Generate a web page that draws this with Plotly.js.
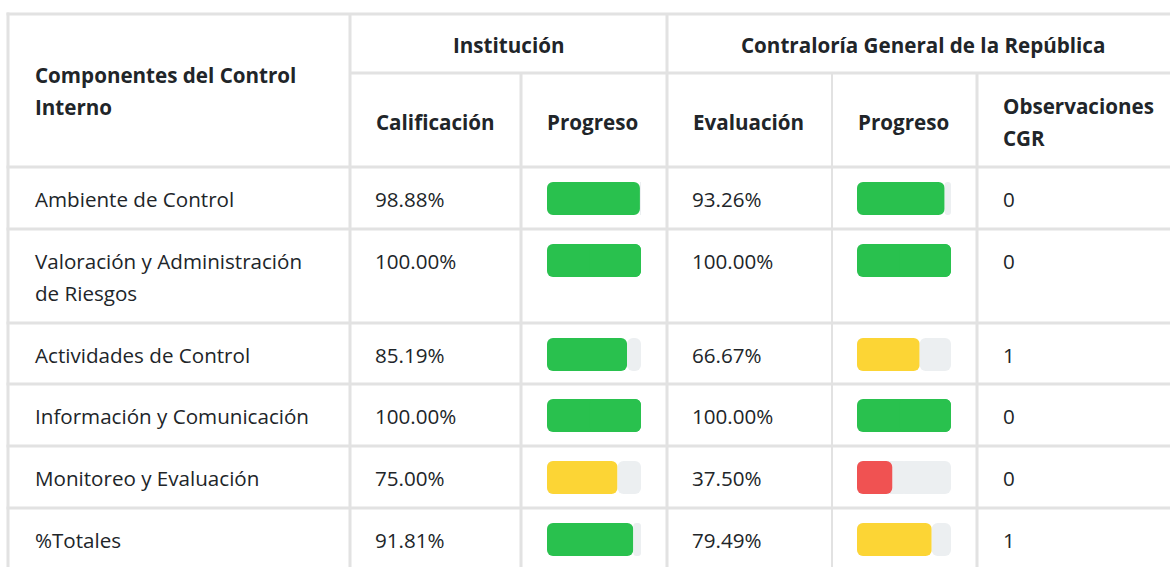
<!DOCTYPE html>
<html>
<head>
<meta charset="utf-8">
<script src="https://cdn.plot.ly/plotly-3.0.1.min.js"></script>
<style>
  html, body { margin: 0; padding: 0; background: #ffffff; }
  #chart { width: 1170px; height: 567px; }
</style>
</head>
<body>
<div id="chart"></div>
<script>
// ---------------- DATA ----------------
const cornerHeader = 'Componentes del Control Interno';
const groupHeaders = ['Institución', 'Contraloría General de la República'];
const columnHeaders = ['Calificación', 'Progreso', 'Evaluación', 'Progreso', 'Observaciones CGR'];
const categories = [
  'Ambiente de Control',
  'Valoración y Administración de Riesgos',
  'Actividades de Control',
  'Información y Comunicación',
  'Monitoreo y Evaluación',
  '%Totales'
];
const institucionValues = [98.88, 100.00, 85.19, 100.00, 75.00, 91.81];
const cgrValues = [93.26, 100.00, 66.67, 100.00, 37.50, 79.49];
const cgrObservations = [0, 0, 1, 0, 0, 1];

// ---------------- LAYOUT / STYLE ----------------
const W = 1170, H = 567;
const FONT = '"Open Sans", "Noto Sans", sans-serif';
const FS = 20.6;
const TEXT = '#212529';
const GRID = '#e2e2e2';
const colX = [8, 350, 521, 667, 832, 977, 1185];   // column boundaries (px)
const colWrap = [28, 20, 20, 20, 20, 13];           // wrap width in chars per column
const headTop = 14, headMid = 73, headBottom = 167;
const PAD = 26, LINE = 32, BASE_ROW = 61.8, TXT_SHIFT = -2;
const BAR_W = 94, BAR_H = 33, BAR_TOP = 15, RADIUS = 6;
const GREEN = '#29c14e', YELLOW = '#fcd535', RED = '#f05252', TRACK = '#eceff1';

function wrap(text, n) {
  const words = text.split(' ');
  const lines = [];
  let cur = '';
  words.forEach(w => {
    if (cur && (cur + ' ' + w).length > n) { lines.push(cur); cur = w; }
    else cur = cur ? cur + ' ' + w : w;
  });
  if (cur) lines.push(cur);
  return lines;
}
function color(v) { return v >= 80 ? GREEN : (v >= 50 ? YELLOW : RED); }
const fmt = v => v.toFixed(2) + '%';

// row geometry
const catLines = categories.map(c => wrap(c, colWrap[0]));
const rowTops = [];
let yy = headBottom;
catLines.forEach(l => { rowTops.push(Math.round(yy)); yy += BASE_ROW + LINE * (l.length - 1); });
const tableBottom = Math.max(yy, H + 5);
const barCenters = rowTops.map(t => t + BAR_TOP + BAR_H / 2);

const annotations = [];
function addLines(lines, x, yCenterFirst, bold, anchor) {
  lines.forEach((ln, i) => {
    annotations.push({
      xref: 'x', yref: 'y', x: anchor === 'center' ? x : x + TXT_SHIFT, y: yCenterFirst + i * LINE,
      text: bold ? '<b>' + ln + '</b>' : ln,
      showarrow: false, xanchor: anchor || 'left', yanchor: 'middle',
      font: { family: FONT, size: FS, color: TEXT }
    });
  });
}
function addCentered(lines, x, yMid, bold, anchor) {
  const first = yMid - (lines.length - 1) * LINE / 2;
  addLines(lines, x, first, bold, anchor);
}

// headers
addCentered(wrap(cornerHeader, colWrap[0]), colX[0] + 27, (headTop + headBottom) / 2, true);
addCentered([groupHeaders[0]], (colX[1] + colX[3]) / 2, (headTop + headMid) / 2 + 1, true, 'center');
addCentered([groupHeaders[1]], 923, (headTop + headMid) / 2 + 1, true, 'center');
columnHeaders.forEach((h, i) => {
  addCentered(wrap(h, colWrap[i + 1]), colX[i + 1] + PAD, (headMid + headBottom) / 2 + 2, true);
});

// body text
categories.forEach((c, r) => {
  const yc = barCenters[r];
  addLines(catLines[r], colX[0] + 27, yc, false);
  addLines([fmt(institucionValues[r])], colX[1] + PAD - 1, yc, false);
  addLines([fmt(cgrValues[r])], colX[3] + PAD - 1, yc, false);
  addLines([String(cgrObservations[r])], colX[5] + PAD, yc, false);
});

// grid lines
const shapes = [];
function hline(y, x0, x1, w) {
  shapes.push({ type: 'line', xref: 'x', yref: 'y', x0: x0, x1: x1, y0: y, y1: y, line: { color: GRID, width: w || 3 }, layer: 'below' });
}
function vline(x, y0, y1, w) {
  shapes.push({ type: 'line', xref: 'x', yref: 'y', x0: x, x1: x, y0: y0, y1: y1, line: { color: GRID, width: w || 3 }, layer: 'below' });
}
hline(headTop, colX[0] - 1.5, colX[6]);
hline(headMid, colX[1], colX[6]);
hline(headBottom, colX[0] - 1.5, colX[6]);
rowTops.slice(1).forEach(t => hline(t, colX[0] - 1.5, colX[6]));
vline(colX[0], headTop - 1.5, tableBottom);
vline(colX[1], headTop, tableBottom);
vline(colX[2], headMid, tableBottom);
vline(colX[3], headTop, tableBottom);
vline(colX[4], headMid, tableBottom, 2);
vline(colX[5], headMid, tableBottom);

// progress bars: each column has a reversed axis (drawn first, bars rounded at left)
// and a normal axis (drawn on top, bars rounded at right) sharing one domain.
const common = { type: 'bar', orientation: 'h', yaxis: 'y', y: barCenters, width: BAR_H, hoverinfo: 'skip', showlegend: false };
const mk = c => ({ color: c, cornerradius: RADIUS, line: { width: 0 } });
function leftTraces(values, xaRev) {
  return [
    Object.assign({}, common, { xaxis: xaRev, base: values.map(() => 45), x: values.map(() => 55), marker: mk(TRACK) }),
    Object.assign({}, common, { xaxis: xaRev, base: values.map(v => 100 - v), x: values, marker: mk(values.map(color)) })
  ];
}
function rightTraces(values, xa) {
  const start = values.map(v => v >= 100 ? 45 : Math.max(v, 45));
  return [
    Object.assign({}, common, { xaxis: xa, base: start, x: start.map(s => 100 - s),
      marker: mk(values.map(v => v >= 100 ? color(v) : TRACK)) })
  ];
}
const data = [].concat(
  leftTraces(institucionValues, 'x2'),
  leftTraces(cgrValues, 'x3'),
  rightTraces(institucionValues, 'x4'),
  rightTraces(cgrValues, 'x5')
);

const dom1 = [(colX[2] + PAD) / W, (colX[2] + PAD + BAR_W) / W];
const dom2 = [(colX[4] + PAD - 1) / W, (colX[4] + PAD - 1 + BAR_W) / W];
const barAxis = (dom, rev) => ({ range: rev ? [100, 0] : [0, 100], visible: false, fixedrange: true, anchor: 'y', domain: dom });

const layout = {
  width: W, height: H,
  margin: { l: 0, r: 0, t: 0, b: 0 },
  paper_bgcolor: '#ffffff', plot_bgcolor: 'rgba(0,0,0,0)',
  barmode: 'overlay',
  showlegend: false,
  xaxis: { range: [0, W], visible: false, fixedrange: true, domain: [0, 1] },
  yaxis: { range: [H, 0], visible: false, fixedrange: true, domain: [0, 1] },
  xaxis2: barAxis(dom1, true),
  xaxis3: barAxis(dom2, true),
  xaxis4: barAxis(dom1, false),
  xaxis5: barAxis(dom2, false),
  shapes: shapes,
  annotations: annotations
};

Plotly.newPlot('chart', data, layout, { staticPlot: true, displayModeBar: false });
</script>
</body>
</html>
